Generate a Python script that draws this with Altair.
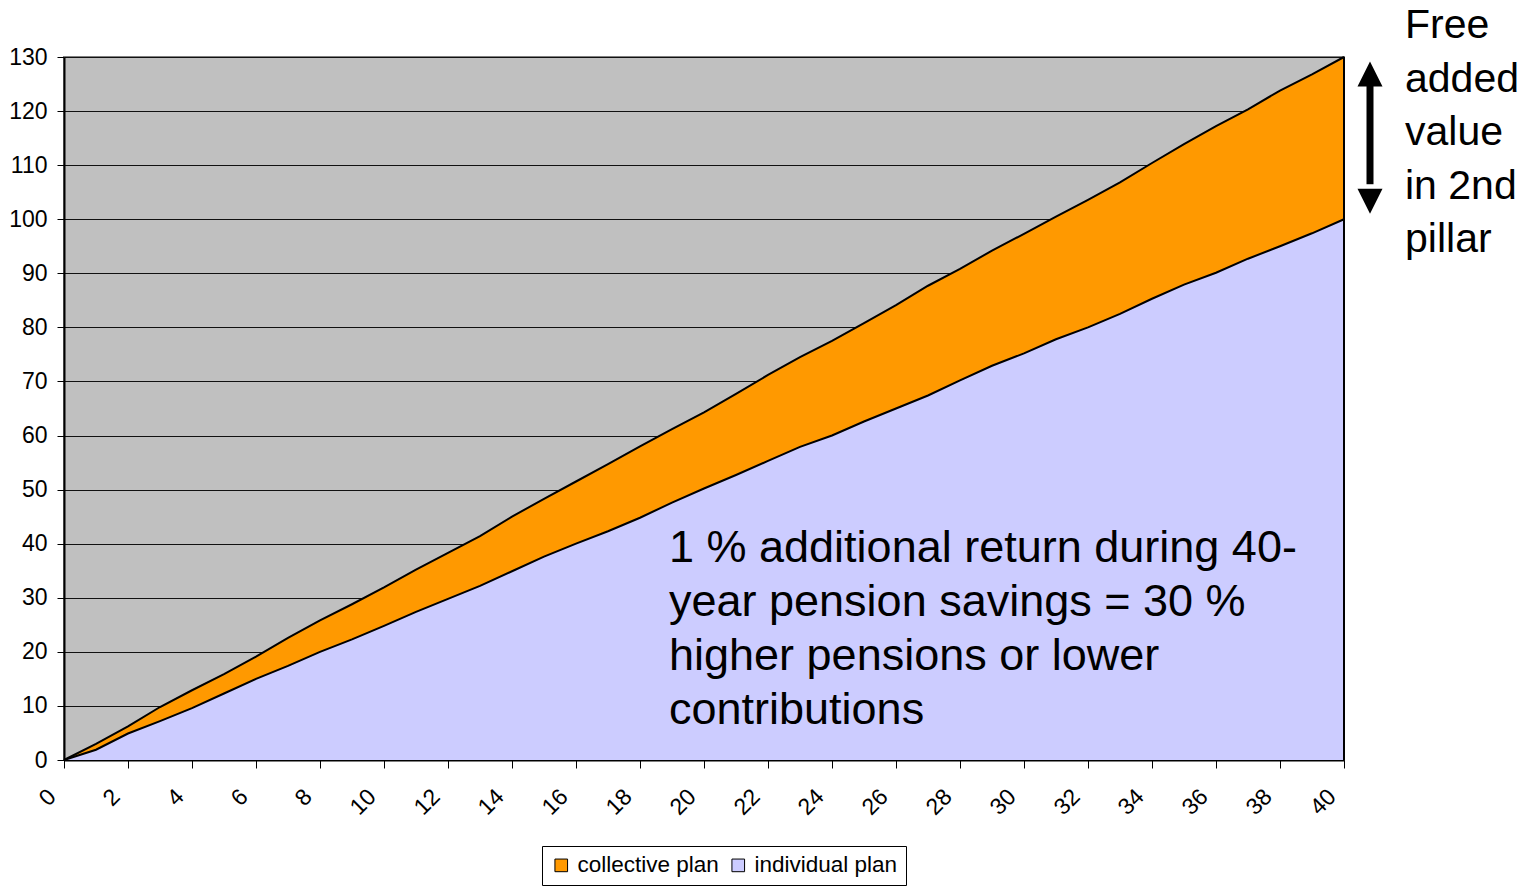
import altair as alt
import pandas as pd

years = list(range(41))
collective = [0, 3.0, 6.2, 9.8, 12.9, 15.9, 19.1, 22.6, 25.8, 28.8, 31.9, 35.2, 38.3, 41.4,
              45.0, 48.3, 51.5, 54.7, 58.0, 61.2, 64.3, 67.7, 71.2, 74.5, 77.5, 80.8, 84.1,
              87.7, 90.8, 94.2, 97.3, 100.5, 103.6, 106.8, 110.4, 113.9, 117.2, 120.3, 123.8,
              126.8, 130.0]
individual = [0, 1.9, 4.9, 7.2, 9.6, 12.3, 15.0, 17.4, 20.0, 22.3, 24.8, 27.4, 29.8, 32.2,
              34.9, 37.6, 40.0, 42.3, 44.8, 47.6, 50.2, 52.7, 55.3, 57.9, 60.0, 62.6, 65.0,
              67.4, 70.2, 72.9, 75.2, 77.8, 80.0, 82.5, 85.3, 87.9, 90.1, 92.7, 95.0, 97.4,
              100.0]
series_names = ["collective plan", "individual plan"]
series_colors = ["#FF9900", "#CCCCFF"]
y_ticks = list(range(0, 131, 10))
x_ticks = list(range(0, 41))

main_note = ["1 % additional return during 40-", "year pension savings = 30 %",
             "higher pensions or lower", "contributions"]
side_note = ["Free", "added", "value", "in 2nd", "pillar"]

FONT = "Liberation Sans"

df = pd.DataFrame({
    "year": years * 2,
    "value": collective + individual,
    "plan": [series_names[0]] * len(years) + [series_names[1]] * len(years),
})
df_c = df[df.plan == series_names[0]]
df_i = df[df.plan == series_names[1]]

xscale = alt.Scale(domain=[0, 40], nice=False, zero=False, padding=0)
yscale = alt.Scale(domain=[0, 130], nice=False)
color = alt.Color("plan:N",
                  scale=alt.Scale(domain=series_names, range=series_colors),
                  legend=alt.Legend(title=None, orient="none", direction="horizontal",
                                    legendX=478, legendY=789,
                                    symbolType="square", symbolSize=160,
                                    symbolStrokeColor="black", symbolStrokeWidth=1,
                                    symbolOpacity=1,
                                    labelFont=FONT, labelFontSize=22.5, labelColor="black",
                                    labelOffset=5, columnPadding=8,
                                    padding=8, strokeColor="black", fillColor="white",
                                    cornerRadius=0))

xax = alt.Axis(values=x_ticks, title=None, grid=False,
               labelExpr="datum.value % 2 === 0 ? datum.label : ''",
               labelAngle=-45, labelAlign="right", labelBaseline="top",
               labelFlush=False, labelOverlap=False, labelBound=False,
               labelOffset=-20, labelPadding=17, tickSize=8,
               labelFont=FONT, labelFontSize=23, labelColor="black",
               tickColor="black", domainColor="black", domainWidth=2)
yax = alt.Axis(values=y_ticks, title=None, grid=True, gridColor="#111111", gridWidth=1,
               labelFont=FONT, labelFontSize=23, labelColor="black", labelPadding=10,
               tickSize=7, tickColor="black", domainColor="black", domainWidth=2)

area_c = alt.Chart(df_c).mark_area(opacity=1).encode(
    x=alt.X("year:Q", scale=xscale, axis=xax),
    y=alt.Y("value:Q", scale=yscale, axis=yax, stack=None),
    color=color,
)
area_i = alt.Chart(df_i).mark_area(opacity=1).encode(
    x=alt.X("year:Q", scale=xscale),
    y=alt.Y("value:Q", scale=yscale, stack=None),
    color=color,
)
line_c = alt.Chart(df_c).mark_line(color="black", strokeWidth=2).encode(
    x=alt.X("year:Q", scale=xscale), y=alt.Y("value:Q", scale=yscale))
line_i = alt.Chart(df_i).mark_line(color="black", strokeWidth=2).encode(
    x=alt.X("year:Q", scale=xscale), y=alt.Y("value:Q", scale=yscale))

edge = alt.Chart(pd.DataFrame({"x": [years[-1]], "y0": [0], "y1": [y_ticks[-1]]})).mark_rule(
    color="black", strokeWidth=2).encode(
    x=alt.X("x:Q", scale=xscale), y=alt.Y("y0:Q", scale=yscale), y2="y1:Q")

arrow_df = pd.DataFrame({"x": [years[-1]], "top": [collective[-1]], "bot": [individual[-1]]})
shaft = alt.Chart(arrow_df).mark_rule(color="black", strokeWidth=7, xOffset=26,
                                      yOffset=25, y2Offset=-35).encode(
    x=alt.X("x:Q", scale=xscale), y=alt.Y("top:Q", scale=yscale), y2="bot:Q")
head_up = alt.Chart(arrow_df).mark_point(shape="M0,-1L1,1L-1,1Z", filled=True, size=625,
                                         color="black", opacity=1, xOffset=26, yOffset=17).encode(
    x=alt.X("x:Q", scale=xscale), y=alt.Y("top:Q", scale=yscale))
head_dn = alt.Chart(arrow_df).mark_point(shape="M0,1L1,-1L-1,-1Z", filled=True, size=625,
                                         color="black", opacity=1, xOffset=26, yOffset=-18).encode(
    x=alt.X("x:Q", scale=xscale), y=alt.Y("bot:Q", scale=yscale))

main_txt = alt.Chart(pd.DataFrame({"t": [main_note]})).mark_text(
    align="left", baseline="alphabetic", font=FONT, fontSize=45, lineHeight=54,
    color="black").encode(text="t", x=alt.value(605), y=alt.value(505))

side_txt = alt.Chart(pd.DataFrame({"x": [years[-1]], "y": [y_ticks[-1]], "t": [side_note]})).mark_text(
    align="left", baseline="alphabetic", font=FONT, fontSize=41, lineHeight=53.5,
    color="black", xOffset=61, yOffset=-19).encode(
    text="t", x=alt.X("x:Q", scale=xscale), y=alt.Y("y:Q", scale=yscale))

chart = alt.layer(area_c, area_i, line_c, line_i, edge, shaft, head_up, head_dn,
                  main_txt, side_txt).properties(
    width=1280, height=703,
    autosize=alt.AutoSizeParams(type="none"),
    padding={"left": 64, "top": 57, "right": 181, "bottom": 126},
    background="white",
).configure_view(fill="#C0C0C0", stroke="#808080", strokeWidth=2)

chart.save("out.html", embed_options={"renderer": "svg", "actions": False})
